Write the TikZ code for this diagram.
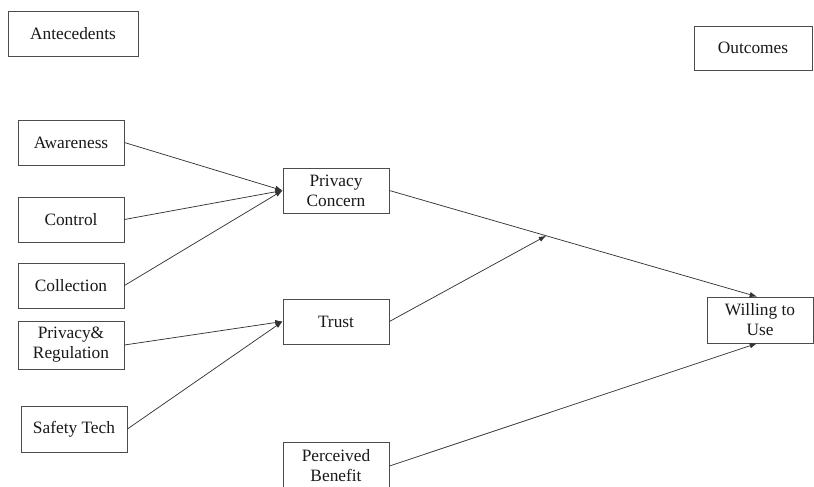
\documentclass[tikz,border=0pt]{standalone}
\usepackage{fontspec}
\setmainfont{Liberation Serif}
\usetikzlibrary{arrows.meta,calc}
\begin{document}
\begin{tikzpicture}[x=0.75pt,y=-0.75pt,
  box/.style={draw=black!70, line width=0.6pt, fill=white, inner sep=0pt, align=center,
    font=\fontsize{13}{15}\selectfont, text=black!90},
  link/.style={draw=black!80, line width=0.55pt, -{Latex[length=5.5pt,width=4pt]}}]
\clip (0,0) rectangle (814,486);
\useasboundingbox (0,0) rectangle (814,486);
\node[box, minimum width=97.5pt, minimum height=33.75pt] (ante) at (73,33.5) {Antecedents};
\node[box, minimum width=88.5pt, minimum height=33pt] (out) at (753,48) {Outcomes};
\node[box, minimum width=79.5pt, minimum height=33.75pt] (aw) at (71,142.5) {Awareness};
\node[box, minimum width=79.5pt, minimum height=33.75pt] (co) at (71,219.5) {Control};
\node[box, minimum width=79.5pt, minimum height=33.75pt] (cl) at (71,285.5) {Collection};
\node[box, minimum width=79.5pt, minimum height=36pt] (pr) at (71,345) {Privacy\&\\Regulation};
\node[box, minimum width=79.5pt, minimum height=34.5pt] (st) at (74,429) {Safety Tech};
\node[box, minimum width=79.5pt, minimum height=33.75pt] (pc) at (336,190.5) {Privacy\\Concern};
\node[box, minimum width=79.5pt, minimum height=33.75pt] (tr) at (336,321.5) {Trust};
\node[box, minimum width=79.5pt, minimum height=36pt] (pb) at (336,466) {Perceived\\Benefit};
\node[box, minimum width=79.5pt, minimum height=34.5pt] (wu) at (760,320) {Willing to\\Use};
\coordinate (wutop) at ($(wu.north)+(-3,0)$);
\coordinate (wubot) at ($(wu.south)+(-3,0)$);
\coordinate (mid) at ($(pc.east)!0.4266!(wutop)$);
\draw[link] (aw.east) -- (pc.west);
\draw[link] (co.east) -- (pc.west);
\draw[link] (cl.east) -- (pc.west);
\draw[link] (pr.east) -- (tr.west);
\draw[link] (st.east) -- (tr.west);
\draw[link] (pc.east) -- (wutop);
\draw[link] (tr.east) -- (mid);
\draw[link] (pb.east) -- (wubot);
\end{tikzpicture}
\end{document}
